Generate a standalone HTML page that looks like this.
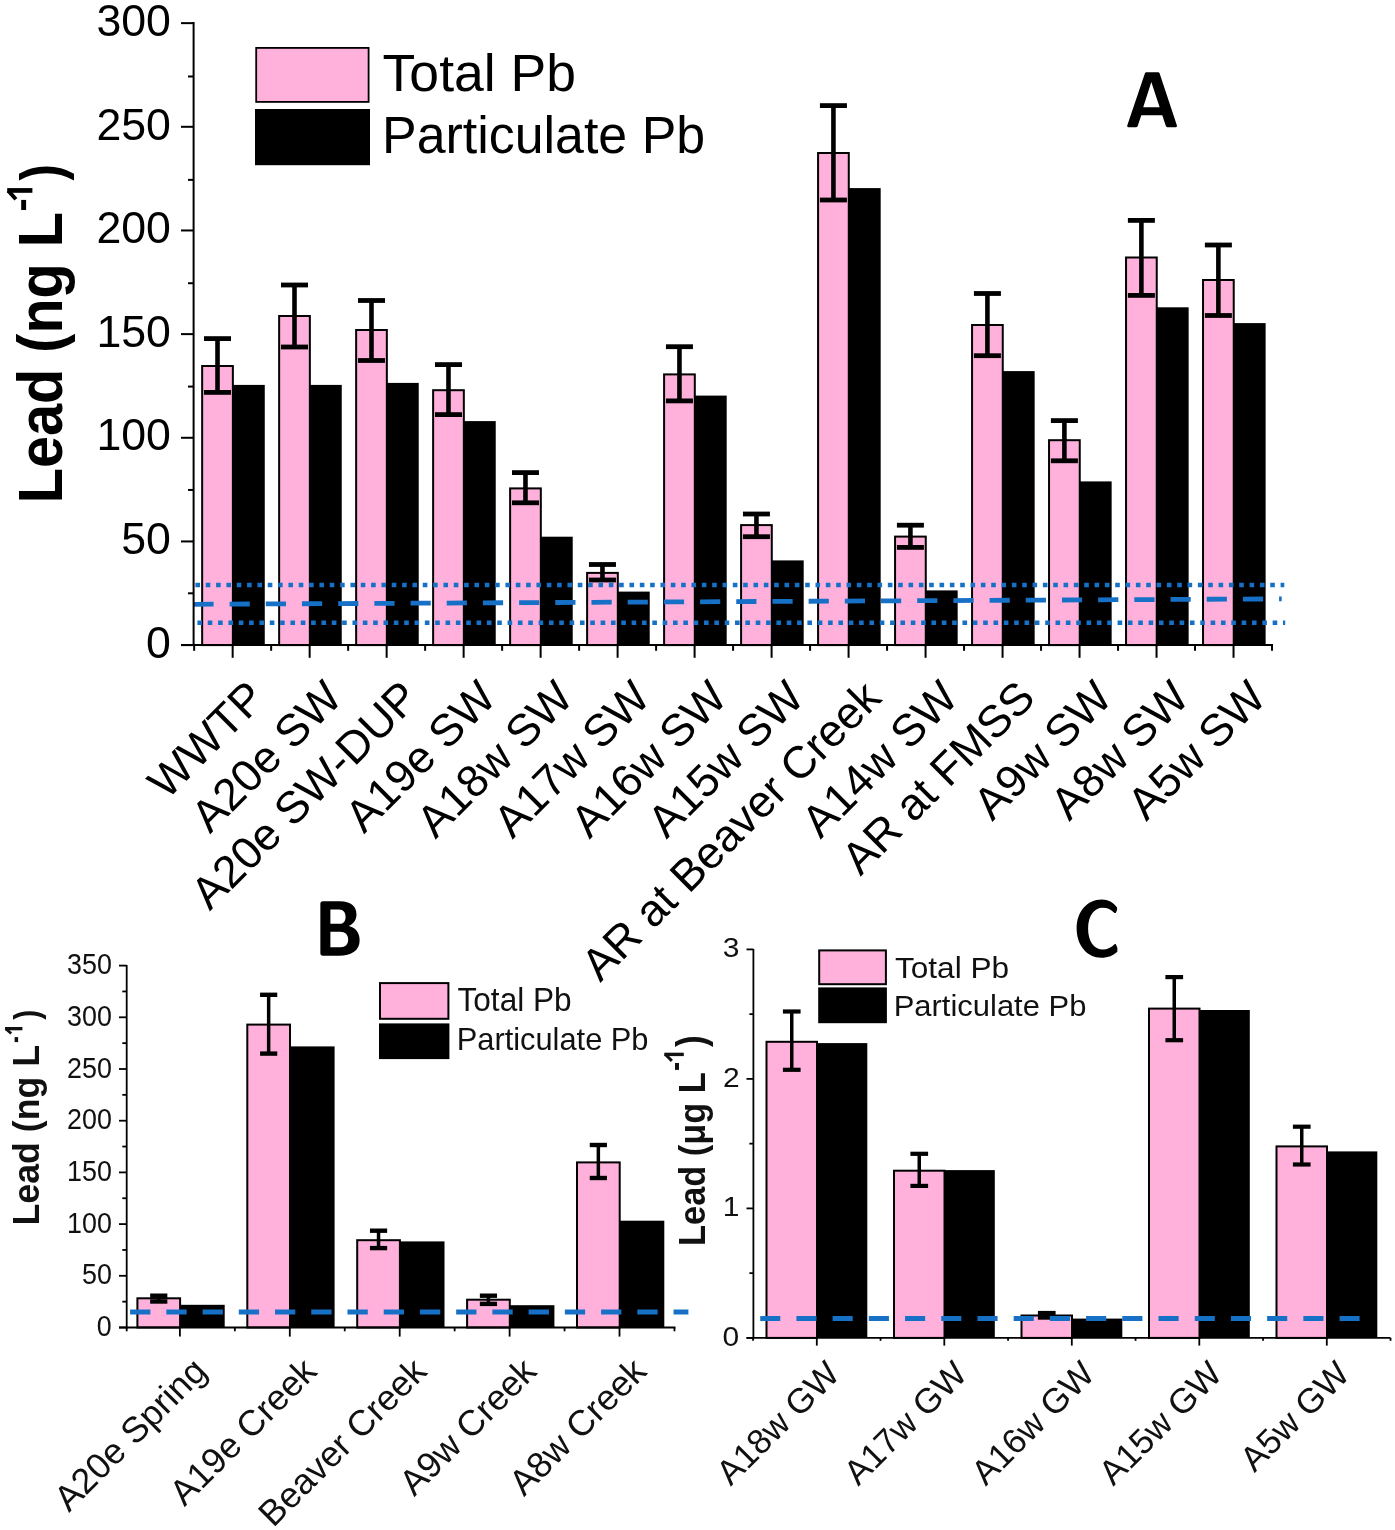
<!DOCTYPE html>
<html><head><meta charset="utf-8"><title>Lead concentrations</title>
<style>
html,body{margin:0;padding:0;background:#fff;}
body{width:1395px;height:1530px;overflow:hidden;}
svg{display:block;font-family:'Liberation Sans', sans-serif;will-change:transform;}
</style></head>
<body>
<svg width="1395" height="1530" viewBox="0 0 1395 1530">
<rect x="0" y="0" width="1395" height="1530" fill="#fff"/>
<rect x="232.96" y="384.9" width="31.8" height="260.2" fill="#000"/>
<rect x="202.16" y="366" width="30.7" height="279.1" fill="#ffb1dc" stroke="#000" stroke-width="2"/>
<rect x="309.95" y="384.9" width="31.8" height="260.2" fill="#000"/>
<rect x="279.15" y="316" width="30.7" height="329.1" fill="#ffb1dc" stroke="#000" stroke-width="2"/>
<rect x="386.94" y="382.9" width="31.8" height="262.2" fill="#000"/>
<rect x="356.14" y="330" width="30.7" height="315.1" fill="#ffb1dc" stroke="#000" stroke-width="2"/>
<rect x="463.93" y="421.1" width="31.8" height="224" fill="#000"/>
<rect x="433.13" y="390.2" width="30.7" height="254.9" fill="#ffb1dc" stroke="#000" stroke-width="2"/>
<rect x="540.92" y="536.7" width="31.8" height="108.4" fill="#000"/>
<rect x="510.12" y="488.4" width="30.7" height="156.7" fill="#ffb1dc" stroke="#000" stroke-width="2"/>
<rect x="617.91" y="591.6" width="31.8" height="53.5" fill="#000"/>
<rect x="587.11" y="572.9" width="30.7" height="72.2" fill="#ffb1dc" stroke="#000" stroke-width="2"/>
<rect x="694.9" y="395.6" width="31.8" height="249.5" fill="#000"/>
<rect x="664.1" y="374.4" width="30.7" height="270.7" fill="#ffb1dc" stroke="#000" stroke-width="2"/>
<rect x="771.89" y="560.4" width="31.8" height="84.7" fill="#000"/>
<rect x="741.09" y="525.1" width="30.7" height="120" fill="#ffb1dc" stroke="#000" stroke-width="2"/>
<rect x="848.88" y="188.1" width="31.8" height="457" fill="#000"/>
<rect x="818.08" y="153" width="30.7" height="492.1" fill="#ffb1dc" stroke="#000" stroke-width="2"/>
<rect x="925.87" y="590.4" width="31.8" height="54.7" fill="#000"/>
<rect x="895.07" y="536.6" width="30.7" height="108.5" fill="#ffb1dc" stroke="#000" stroke-width="2"/>
<rect x="1002.86" y="371.1" width="31.8" height="274" fill="#000"/>
<rect x="972.06" y="325" width="30.7" height="320.1" fill="#ffb1dc" stroke="#000" stroke-width="2"/>
<rect x="1079.85" y="481.4" width="31.8" height="163.7" fill="#000"/>
<rect x="1049.05" y="440.2" width="30.7" height="204.9" fill="#ffb1dc" stroke="#000" stroke-width="2"/>
<rect x="1156.84" y="307.3" width="31.8" height="337.8" fill="#000"/>
<rect x="1126.04" y="257.5" width="30.7" height="387.6" fill="#ffb1dc" stroke="#000" stroke-width="2"/>
<rect x="1233.83" y="323.1" width="31.8" height="322" fill="#000"/>
<rect x="1203.03" y="280" width="30.7" height="365.1" fill="#ffb1dc" stroke="#000" stroke-width="2"/>
<line x1="217.51" y1="338.6" x2="217.51" y2="392.4" stroke="#000" stroke-width="4.6" />
<line x1="204.01" y1="338.6" x2="231.01" y2="338.6" stroke="#000" stroke-width="4.8" />
<line x1="204.01" y1="392.4" x2="231.01" y2="392.4" stroke="#000" stroke-width="4.8" />
<line x1="294.5" y1="285" x2="294.5" y2="347" stroke="#000" stroke-width="4.6" />
<line x1="281" y1="285" x2="308" y2="285" stroke="#000" stroke-width="4.8" />
<line x1="281" y1="347" x2="308" y2="347" stroke="#000" stroke-width="4.8" />
<line x1="371.49" y1="300.5" x2="371.49" y2="360.5" stroke="#000" stroke-width="4.6" />
<line x1="357.99" y1="300.5" x2="384.99" y2="300.5" stroke="#000" stroke-width="4.8" />
<line x1="357.99" y1="360.5" x2="384.99" y2="360.5" stroke="#000" stroke-width="4.8" />
<line x1="448.48" y1="364.6" x2="448.48" y2="414.6" stroke="#000" stroke-width="4.6" />
<line x1="434.98" y1="364.6" x2="461.98" y2="364.6" stroke="#000" stroke-width="4.8" />
<line x1="434.98" y1="414.6" x2="461.98" y2="414.6" stroke="#000" stroke-width="4.8" />
<line x1="525.47" y1="472.6" x2="525.47" y2="502.8" stroke="#000" stroke-width="4.6" />
<line x1="511.97" y1="472.6" x2="538.97" y2="472.6" stroke="#000" stroke-width="4.8" />
<line x1="511.97" y1="502.8" x2="538.97" y2="502.8" stroke="#000" stroke-width="4.8" />
<line x1="602.46" y1="564.5" x2="602.46" y2="580" stroke="#000" stroke-width="4.6" />
<line x1="588.96" y1="564.5" x2="615.96" y2="564.5" stroke="#000" stroke-width="4.8" />
<line x1="588.96" y1="580" x2="615.96" y2="580" stroke="#000" stroke-width="4.8" />
<line x1="679.45" y1="346.7" x2="679.45" y2="400.9" stroke="#000" stroke-width="4.6" />
<line x1="665.95" y1="346.7" x2="692.95" y2="346.7" stroke="#000" stroke-width="4.8" />
<line x1="665.95" y1="400.9" x2="692.95" y2="400.9" stroke="#000" stroke-width="4.8" />
<line x1="756.44" y1="514" x2="756.44" y2="536.7" stroke="#000" stroke-width="4.6" />
<line x1="742.94" y1="514" x2="769.94" y2="514" stroke="#000" stroke-width="4.8" />
<line x1="742.94" y1="536.7" x2="769.94" y2="536.7" stroke="#000" stroke-width="4.8" />
<line x1="833.43" y1="105.6" x2="833.43" y2="200" stroke="#000" stroke-width="4.6" />
<line x1="819.93" y1="105.6" x2="846.93" y2="105.6" stroke="#000" stroke-width="4.8" />
<line x1="819.93" y1="200" x2="846.93" y2="200" stroke="#000" stroke-width="4.8" />
<line x1="910.42" y1="525.2" x2="910.42" y2="547.4" stroke="#000" stroke-width="4.6" />
<line x1="896.92" y1="525.2" x2="923.92" y2="525.2" stroke="#000" stroke-width="4.8" />
<line x1="896.92" y1="547.4" x2="923.92" y2="547.4" stroke="#000" stroke-width="4.8" />
<line x1="987.41" y1="293.5" x2="987.41" y2="355.7" stroke="#000" stroke-width="4.6" />
<line x1="973.91" y1="293.5" x2="1000.91" y2="293.5" stroke="#000" stroke-width="4.8" />
<line x1="973.91" y1="355.7" x2="1000.91" y2="355.7" stroke="#000" stroke-width="4.8" />
<line x1="1064.4" y1="420.6" x2="1064.4" y2="460.8" stroke="#000" stroke-width="4.6" />
<line x1="1050.9" y1="420.6" x2="1077.9" y2="420.6" stroke="#000" stroke-width="4.8" />
<line x1="1050.9" y1="460.8" x2="1077.9" y2="460.8" stroke="#000" stroke-width="4.8" />
<line x1="1141.39" y1="220.4" x2="1141.39" y2="295.4" stroke="#000" stroke-width="4.6" />
<line x1="1127.89" y1="220.4" x2="1154.89" y2="220.4" stroke="#000" stroke-width="4.8" />
<line x1="1127.89" y1="295.4" x2="1154.89" y2="295.4" stroke="#000" stroke-width="4.8" />
<line x1="1218.38" y1="245" x2="1218.38" y2="315.5" stroke="#000" stroke-width="4.6" />
<line x1="1204.88" y1="245" x2="1231.88" y2="245" stroke="#000" stroke-width="4.8" />
<line x1="1204.88" y1="315.5" x2="1231.88" y2="315.5" stroke="#000" stroke-width="4.8" />
<line x1="195.4" y1="584.9" x2="1284.3" y2="584.9" stroke="#1670c6" stroke-width="4.5" stroke-dasharray="4.6 5.735"/>
<line x1="197.4" y1="622.8" x2="1285.2" y2="622.8" stroke="#1670c6" stroke-width="4.5" stroke-dasharray="4.6 5.739"/>
<line x1="193.4" y1="604.3" x2="1281.7" y2="598.9" stroke="#1670c6" stroke-width="4.8" stroke-dasharray="20.2 15.99"/>
<line x1="193.6" y1="22" x2="193.6" y2="646.1" stroke="#000" stroke-width="2" />
<line x1="181" y1="645.1" x2="1273" y2="645.1" stroke="#000" stroke-width="2" />
<line x1="181" y1="645.1" x2="193.6" y2="645.1" stroke="#000" stroke-width="2" />
<line x1="181" y1="541.44" x2="193.6" y2="541.44" stroke="#000" stroke-width="2" />
<line x1="181" y1="437.78" x2="193.6" y2="437.78" stroke="#000" stroke-width="2" />
<line x1="181" y1="334.12" x2="193.6" y2="334.12" stroke="#000" stroke-width="2" />
<line x1="181" y1="230.46" x2="193.6" y2="230.46" stroke="#000" stroke-width="2" />
<line x1="181" y1="126.8" x2="193.6" y2="126.8" stroke="#000" stroke-width="2" />
<line x1="181" y1="23.14" x2="193.6" y2="23.14" stroke="#000" stroke-width="2" />
<text transform="translate(170.94,657.8) scale(0.9930,1.0063)" font-size="45" text-anchor="end" fill="#000">0</text>
<text transform="translate(170.94,554.14) scale(0.9930,1.0063)" font-size="45" text-anchor="end" fill="#000">50</text>
<text transform="translate(170.94,450.48) scale(0.9930,1.0063)" font-size="45" text-anchor="end" fill="#000">100</text>
<text transform="translate(170.94,346.82) scale(0.9930,1.0063)" font-size="45" text-anchor="end" fill="#000">150</text>
<text transform="translate(170.94,243.16) scale(0.9930,1.0063)" font-size="45" text-anchor="end" fill="#000">200</text>
<text transform="translate(170.94,139.5) scale(0.9930,1.0063)" font-size="45" text-anchor="end" fill="#000">250</text>
<text transform="translate(170.94,35.84) scale(0.9930,1.0063)" font-size="45" text-anchor="end" fill="#000">300</text>
<line x1="188" y1="593.3" x2="193.6" y2="593.3" stroke="#000" stroke-width="2" />
<line x1="188" y1="489.94" x2="193.6" y2="489.94" stroke="#000" stroke-width="2" />
<line x1="188" y1="386.58" x2="193.6" y2="386.58" stroke="#000" stroke-width="2" />
<line x1="188" y1="283.22" x2="193.6" y2="283.22" stroke="#000" stroke-width="2" />
<line x1="188" y1="179.86" x2="193.6" y2="179.86" stroke="#000" stroke-width="2" />
<line x1="188" y1="76.5" x2="193.6" y2="76.5" stroke="#000" stroke-width="2" />
<line x1="232.66" y1="645.1" x2="232.66" y2="657.8" stroke="#000" stroke-width="2" />
<line x1="309.65" y1="645.1" x2="309.65" y2="657.8" stroke="#000" stroke-width="2" />
<line x1="386.64" y1="645.1" x2="386.64" y2="657.8" stroke="#000" stroke-width="2" />
<line x1="463.63" y1="645.1" x2="463.63" y2="657.8" stroke="#000" stroke-width="2" />
<line x1="540.62" y1="645.1" x2="540.62" y2="657.8" stroke="#000" stroke-width="2" />
<line x1="617.61" y1="645.1" x2="617.61" y2="657.8" stroke="#000" stroke-width="2" />
<line x1="694.6" y1="645.1" x2="694.6" y2="657.8" stroke="#000" stroke-width="2" />
<line x1="771.59" y1="645.1" x2="771.59" y2="657.8" stroke="#000" stroke-width="2" />
<line x1="848.58" y1="645.1" x2="848.58" y2="657.8" stroke="#000" stroke-width="2" />
<line x1="925.57" y1="645.1" x2="925.57" y2="657.8" stroke="#000" stroke-width="2" />
<line x1="1002.56" y1="645.1" x2="1002.56" y2="657.8" stroke="#000" stroke-width="2" />
<line x1="1079.55" y1="645.1" x2="1079.55" y2="657.8" stroke="#000" stroke-width="2" />
<line x1="1156.54" y1="645.1" x2="1156.54" y2="657.8" stroke="#000" stroke-width="2" />
<line x1="1233.53" y1="645.1" x2="1233.53" y2="657.8" stroke="#000" stroke-width="2" />
<line x1="194.16" y1="645.1" x2="194.16" y2="650.8" stroke="#000" stroke-width="2" />
<line x1="271.15" y1="645.1" x2="271.15" y2="650.8" stroke="#000" stroke-width="2" />
<line x1="348.14" y1="645.1" x2="348.14" y2="650.8" stroke="#000" stroke-width="2" />
<line x1="425.13" y1="645.1" x2="425.13" y2="650.8" stroke="#000" stroke-width="2" />
<line x1="502.12" y1="645.1" x2="502.12" y2="650.8" stroke="#000" stroke-width="2" />
<line x1="579.11" y1="645.1" x2="579.11" y2="650.8" stroke="#000" stroke-width="2" />
<line x1="656.1" y1="645.1" x2="656.1" y2="650.8" stroke="#000" stroke-width="2" />
<line x1="733.09" y1="645.1" x2="733.09" y2="650.8" stroke="#000" stroke-width="2" />
<line x1="810.08" y1="645.1" x2="810.08" y2="650.8" stroke="#000" stroke-width="2" />
<line x1="887.07" y1="645.1" x2="887.07" y2="650.8" stroke="#000" stroke-width="2" />
<line x1="964.06" y1="645.1" x2="964.06" y2="650.8" stroke="#000" stroke-width="2" />
<line x1="1041.05" y1="645.1" x2="1041.05" y2="650.8" stroke="#000" stroke-width="2" />
<line x1="1118.04" y1="645.1" x2="1118.04" y2="650.8" stroke="#000" stroke-width="2" />
<line x1="1195.03" y1="645.1" x2="1195.03" y2="650.8" stroke="#000" stroke-width="2" />
<line x1="1272.02" y1="645.1" x2="1272.02" y2="650.8" stroke="#000" stroke-width="2" />
<text transform="translate(62.1,503.29) rotate(-90) scale(1.0111,1.1032)" font-size="57" font-weight="bold" text-anchor="start" fill="#000">Lead (ng L</text>
<rect x="7.2" y="188.1" width="25.2" height="4.7" fill="#000"/>
<line x1="8.2" y1="190.6" x2="15.9" y2="199.3" stroke="#000" stroke-width="3.9" />
<rect x="21.2" y="199.9" width="4.9" height="10.1" fill="#000"/>
<text transform="translate(61.73,180.52) rotate(-90) scale(0.8625,1.0358)" font-size="57" font-weight="bold" text-anchor="start" fill="#000">)</text>
<rect x="256.2" y="47.9" width="112.4" height="54" fill="#ffb1dc" stroke="#000" stroke-width="1.8"/>
<rect x="255" y="109" width="115" height="56.2" fill="#000"/>
<text transform="translate(382.6,91.09) scale(1.0397,1.0146)" font-size="51.5" font-weight="normal" text-anchor="start" fill="#000">Total Pb</text>
<text transform="translate(382.02,153) scale(1.0078,1.0093)" font-size="51.5" font-weight="normal" text-anchor="start" fill="#000">Particulate Pb</text>
<path transform="translate(1100,60) scale(0.071685)" fill="#000" fill-rule="evenodd" d="M 648 170 L 810 170 Q 826 170 831 185 L 1073 912 Q 1080 937 1056 937 L 940 937 Q 924 937 919 921 L 869 770 L 576 770 L 526 921 Q 521 937 505 937 L 397 937 Q 373 937 380 912 L 627 185 Q 632 170 648 170 Z M 716 306 L 832 658 L 603 658 Z"/>
<text transform="translate(267.36,700) rotate(-45)" font-size="45" text-anchor="end">WWTP</text>
<text transform="translate(344.35,700) rotate(-45)" font-size="45" text-anchor="end">A20e SW</text>
<text transform="translate(421.34,700) rotate(-45)" font-size="45" text-anchor="end">A20e SW-DUP</text>
<text transform="translate(498.33,700) rotate(-45)" font-size="45" text-anchor="end">A19e SW</text>
<text transform="translate(575.32,700) rotate(-45)" font-size="45" text-anchor="end">A18w SW</text>
<text transform="translate(652.31,700) rotate(-45)" font-size="45" text-anchor="end">A17w SW</text>
<text transform="translate(729.3,700) rotate(-45)" font-size="45" text-anchor="end">A16w SW</text>
<text transform="translate(806.29,700) rotate(-45)" font-size="45" text-anchor="end">A15w SW</text>
<text transform="translate(883.28,700) rotate(-45)" font-size="45" text-anchor="end">AR at Beaver Creek</text>
<text transform="translate(960.27,700) rotate(-45)" font-size="45" text-anchor="end">A14w SW</text>
<text transform="translate(1037.26,700) rotate(-45)" font-size="45" text-anchor="end">AR at FMSS</text>
<text transform="translate(1114.25,700) rotate(-45)" font-size="45" text-anchor="end">A9w SW</text>
<text transform="translate(1191.24,700) rotate(-45)" font-size="45" text-anchor="end">A8w SW</text>
<text transform="translate(1268.23,700) rotate(-45)" font-size="45" text-anchor="end">A5w SW</text>
<rect x="180.1" y="1304.8" width="44.6" height="22.7" fill="#000"/>
<rect x="137.4" y="1298.3" width="42.7" height="29.2" fill="#ffb1dc" stroke="#000" stroke-width="2"/>
<rect x="290" y="1046.4" width="44.6" height="281.1" fill="#000"/>
<rect x="247.3" y="1024.6" width="42.7" height="302.9" fill="#ffb1dc" stroke="#000" stroke-width="2"/>
<rect x="399.9" y="1241.4" width="44.6" height="86.1" fill="#000"/>
<rect x="357.2" y="1240.2" width="42.7" height="87.3" fill="#ffb1dc" stroke="#000" stroke-width="2"/>
<rect x="509.8" y="1305.2" width="44.6" height="22.3" fill="#000"/>
<rect x="467.1" y="1299.7" width="42.7" height="27.8" fill="#ffb1dc" stroke="#000" stroke-width="2"/>
<rect x="619.7" y="1220.7" width="44.6" height="106.8" fill="#000"/>
<rect x="577" y="1162.4" width="42.7" height="165.1" fill="#ffb1dc" stroke="#000" stroke-width="2"/>
<line x1="158.75" y1="1295.7" x2="158.75" y2="1301.5" stroke="#000" stroke-width="3.5" />
<line x1="150.15" y1="1295.7" x2="167.35" y2="1295.7" stroke="#000" stroke-width="4.4" />
<line x1="150.15" y1="1301.5" x2="167.35" y2="1301.5" stroke="#000" stroke-width="4.4" />
<line x1="268.65" y1="994.8" x2="268.65" y2="1053.6" stroke="#000" stroke-width="3.5" />
<line x1="260.05" y1="994.8" x2="277.25" y2="994.8" stroke="#000" stroke-width="4.4" />
<line x1="260.05" y1="1053.6" x2="277.25" y2="1053.6" stroke="#000" stroke-width="4.4" />
<line x1="378.55" y1="1230.7" x2="378.55" y2="1248.1" stroke="#000" stroke-width="3.5" />
<line x1="369.95" y1="1230.7" x2="387.15" y2="1230.7" stroke="#000" stroke-width="4.4" />
<line x1="369.95" y1="1248.1" x2="387.15" y2="1248.1" stroke="#000" stroke-width="4.4" />
<line x1="488.45" y1="1295.7" x2="488.45" y2="1303.9" stroke="#000" stroke-width="3.5" />
<line x1="479.85" y1="1295.7" x2="497.05" y2="1295.7" stroke="#000" stroke-width="4.4" />
<line x1="479.85" y1="1303.9" x2="497.05" y2="1303.9" stroke="#000" stroke-width="4.4" />
<line x1="598.35" y1="1145" x2="598.35" y2="1178" stroke="#000" stroke-width="3.5" />
<line x1="589.75" y1="1145" x2="606.95" y2="1145" stroke="#000" stroke-width="4.4" />
<line x1="589.75" y1="1178" x2="606.95" y2="1178" stroke="#000" stroke-width="4.4" />
<line x1="130.1" y1="1312" x2="688.4" y2="1312" stroke="#1670c6" stroke-width="5" stroke-dasharray="20.3 15.93"/>
<line x1="126.7" y1="965" x2="126.7" y2="1328.5" stroke="#000" stroke-width="1.8" />
<line x1="119" y1="1327.5" x2="675.5" y2="1327.5" stroke="#000" stroke-width="1.8" />
<line x1="119" y1="1327.5" x2="126.7" y2="1327.5" stroke="#000" stroke-width="1.8" />
<line x1="119" y1="1275.8" x2="126.7" y2="1275.8" stroke="#000" stroke-width="1.8" />
<line x1="119" y1="1224.1" x2="126.7" y2="1224.1" stroke="#000" stroke-width="1.8" />
<line x1="119" y1="1172.4" x2="126.7" y2="1172.4" stroke="#000" stroke-width="1.8" />
<line x1="119" y1="1120.7" x2="126.7" y2="1120.7" stroke="#000" stroke-width="1.8" />
<line x1="119" y1="1069" x2="126.7" y2="1069" stroke="#000" stroke-width="1.8" />
<line x1="119" y1="1017.3" x2="126.7" y2="1017.3" stroke="#000" stroke-width="1.8" />
<line x1="119" y1="965.6" x2="126.7" y2="965.6" stroke="#000" stroke-width="1.8" />
<text transform="translate(111.64,1336.14) scale(0.9392,1.0272)" font-size="28.6" text-anchor="end" fill="#111">0</text>
<text transform="translate(111.87,1284.44) scale(0.9392,1.0272)" font-size="28.6" text-anchor="end" fill="#111">50</text>
<text transform="translate(111.87,1232.74) scale(0.9392,1.0272)" font-size="28.6" text-anchor="end" fill="#111">100</text>
<text transform="translate(111.87,1181.04) scale(0.9392,1.0272)" font-size="28.6" text-anchor="end" fill="#111">150</text>
<text transform="translate(111.87,1129.34) scale(0.9392,1.0272)" font-size="28.6" text-anchor="end" fill="#111">200</text>
<text transform="translate(111.87,1077.64) scale(0.9392,1.0272)" font-size="28.6" text-anchor="end" fill="#111">250</text>
<text transform="translate(111.87,1025.94) scale(0.9392,1.0272)" font-size="28.6" text-anchor="end" fill="#111">300</text>
<text transform="translate(111.87,974.24) scale(0.9392,1.0272)" font-size="28.6" text-anchor="end" fill="#111">350</text>
<line x1="122.3" y1="1301.65" x2="126.7" y2="1301.65" stroke="#000" stroke-width="1.8" />
<line x1="122.3" y1="1249.95" x2="126.7" y2="1249.95" stroke="#000" stroke-width="1.8" />
<line x1="122.3" y1="1198.25" x2="126.7" y2="1198.25" stroke="#000" stroke-width="1.8" />
<line x1="122.3" y1="1146.55" x2="126.7" y2="1146.55" stroke="#000" stroke-width="1.8" />
<line x1="122.3" y1="1094.85" x2="126.7" y2="1094.85" stroke="#000" stroke-width="1.8" />
<line x1="122.3" y1="1043.15" x2="126.7" y2="1043.15" stroke="#000" stroke-width="1.8" />
<line x1="122.3" y1="991.45" x2="126.7" y2="991.45" stroke="#000" stroke-width="1.8" />
<line x1="179.9" y1="1327.5" x2="179.9" y2="1336.6" stroke="#000" stroke-width="1.8" />
<line x1="289.8" y1="1327.5" x2="289.8" y2="1336.6" stroke="#000" stroke-width="1.8" />
<line x1="399.7" y1="1327.5" x2="399.7" y2="1336.6" stroke="#000" stroke-width="1.8" />
<line x1="509.6" y1="1327.5" x2="509.6" y2="1336.6" stroke="#000" stroke-width="1.8" />
<line x1="619.5" y1="1327.5" x2="619.5" y2="1336.6" stroke="#000" stroke-width="1.8" />
<line x1="126.7" y1="1327.5" x2="126.7" y2="1331.3" stroke="#000" stroke-width="1.8" />
<line x1="234.85" y1="1327.5" x2="234.85" y2="1331.3" stroke="#000" stroke-width="1.8" />
<line x1="344.75" y1="1327.5" x2="344.75" y2="1331.3" stroke="#000" stroke-width="1.8" />
<line x1="454.65" y1="1327.5" x2="454.65" y2="1331.3" stroke="#000" stroke-width="1.8" />
<line x1="564.55" y1="1327.5" x2="564.55" y2="1331.3" stroke="#000" stroke-width="1.8" />
<line x1="674.45" y1="1327.5" x2="674.45" y2="1331.3" stroke="#000" stroke-width="1.8" />
<text transform="translate(39.4,1225.52) rotate(-90) scale(1.0071,1.0408)" font-size="35.5" font-weight="bold" text-anchor="start" fill="#111">Lead (ng L</text>
<rect x="5" y="1027" width="17.4" height="3.3" fill="#111"/>
<line x1="5.7" y1="1028.7" x2="11.2" y2="1033.6" stroke="#111" stroke-width="2.7" />
<rect x="14.6" y="1037.1" width="3.5" height="5" fill="#111"/>
<text transform="translate(39.45,1019.7) rotate(-90) scale(0.8500,1.0000)" font-size="35.5" font-weight="bold" text-anchor="start" fill="#111">)</text>
<rect x="380" y="983.1" width="68.4" height="35.7" fill="#ffb1dc" stroke="#000" stroke-width="2"/>
<rect x="379" y="1023.4" width="70.4" height="35.7" fill="#000"/>
<text transform="translate(457.52,1011.03) scale(1.0356,1.0831)" font-size="30.5" font-weight="normal" text-anchor="start" fill="#111">Total Pb</text>
<text transform="translate(456.77,1050.14) scale(1.0102,1.0337)" font-size="30.5" font-weight="normal" text-anchor="start" fill="#111">Particulate Pb</text>
<path transform="translate(300,890) scale(0.05734)" fill="#000" fill-rule="evenodd" d="M 400 195 L 700 195 C 880 195 985 280 985 425 C 985 530 925 600 850 630 C 965 655 1040 745 1040 875 C 1040 1055 900 1145 680 1145 L 400 1145 Q 355 1145 355 1100 L 355 240 Q 355 195 400 195 Z M 530 340 L 530 590 L 690 590 C 760 590 795 540 795 465 C 795 390 755 340 680 340 Z M 530 730 L 530 1000 L 705 1000 C 795 1000 840 950 840 865 C 840 780 790 730 700 730 Z"/>
<text transform="translate(208.6,1373.2) rotate(-45)" font-size="35.9" text-anchor="end" fill="#111">A20e Spring</text>
<text transform="translate(318.5,1373.2) rotate(-45)" font-size="35.9" text-anchor="end" fill="#111">A19e Creek</text>
<text transform="translate(428.4,1373.2) rotate(-45)" font-size="35.9" text-anchor="end" fill="#111">Beaver Creek</text>
<text transform="translate(538.3,1373.2) rotate(-45)" font-size="35.9" text-anchor="end" fill="#111">A9w Creek</text>
<text transform="translate(648.2,1373.2) rotate(-45)" font-size="35.9" text-anchor="end" fill="#111">A8w Creek</text>
<rect x="817" y="1043.1" width="50.3" height="294.8" fill="#000"/>
<rect x="766.5" y="1041.8" width="50.5" height="296.1" fill="#ffb1dc" stroke="#000" stroke-width="2"/>
<rect x="944.5" y="1170.1" width="50.3" height="167.8" fill="#000"/>
<rect x="894" y="1170.7" width="50.5" height="167.2" fill="#ffb1dc" stroke="#000" stroke-width="2"/>
<rect x="1072" y="1318.6" width="50.3" height="19.3" fill="#000"/>
<rect x="1021.5" y="1315.5" width="50.5" height="22.4" fill="#ffb1dc" stroke="#000" stroke-width="2"/>
<rect x="1199.5" y="1010" width="50.3" height="327.9" fill="#000"/>
<rect x="1149" y="1008.6" width="50.5" height="329.3" fill="#ffb1dc" stroke="#000" stroke-width="2"/>
<rect x="1327" y="1151.4" width="50.3" height="186.5" fill="#000"/>
<rect x="1276.5" y="1146.4" width="50.5" height="191.5" fill="#ffb1dc" stroke="#000" stroke-width="2"/>
<line x1="791.75" y1="1011.5" x2="791.75" y2="1069.8" stroke="#000" stroke-width="3.5" />
<line x1="782.9" y1="1011.5" x2="800.6" y2="1011.5" stroke="#000" stroke-width="4.2" />
<line x1="782.9" y1="1069.8" x2="800.6" y2="1069.8" stroke="#000" stroke-width="4.2" />
<line x1="919.25" y1="1153.8" x2="919.25" y2="1185.9" stroke="#000" stroke-width="3.5" />
<line x1="910.4" y1="1153.8" x2="928.1" y2="1153.8" stroke="#000" stroke-width="4.2" />
<line x1="910.4" y1="1185.9" x2="928.1" y2="1185.9" stroke="#000" stroke-width="4.2" />
<line x1="1046.75" y1="1313" x2="1046.75" y2="1317.6" stroke="#000" stroke-width="3.5" />
<line x1="1037.9" y1="1313" x2="1055.6" y2="1313" stroke="#000" stroke-width="4.2" />
<line x1="1037.9" y1="1317.6" x2="1055.6" y2="1317.6" stroke="#000" stroke-width="4.2" />
<line x1="1174.25" y1="977.1" x2="1174.25" y2="1040.2" stroke="#000" stroke-width="3.5" />
<line x1="1165.4" y1="977.1" x2="1183.1" y2="977.1" stroke="#000" stroke-width="4.2" />
<line x1="1165.4" y1="1040.2" x2="1183.1" y2="1040.2" stroke="#000" stroke-width="4.2" />
<line x1="1301.75" y1="1126.7" x2="1301.75" y2="1164.5" stroke="#000" stroke-width="3.5" />
<line x1="1292.9" y1="1126.7" x2="1310.6" y2="1126.7" stroke="#000" stroke-width="4.2" />
<line x1="1292.9" y1="1164.5" x2="1310.6" y2="1164.5" stroke="#000" stroke-width="4.2" />
<line x1="760.2" y1="1318.6" x2="1359.6" y2="1318.6" stroke="#1670c6" stroke-width="5" stroke-dasharray="20.1 16.11"/>
<line x1="753.4" y1="949" x2="753.4" y2="1338.9" stroke="#000" stroke-width="1.8" />
<line x1="746.5" y1="1337.9" x2="1390.5" y2="1337.9" stroke="#000" stroke-width="1.8" />
<line x1="746.5" y1="1337.9" x2="753.4" y2="1337.9" stroke="#000" stroke-width="1.8" />
<line x1="746.5" y1="1208.4" x2="753.4" y2="1208.4" stroke="#000" stroke-width="1.8" />
<line x1="746.5" y1="1078.9" x2="753.4" y2="1078.9" stroke="#000" stroke-width="1.8" />
<line x1="746.5" y1="949.4" x2="753.4" y2="949.4" stroke="#000" stroke-width="1.8" />
<text transform="translate(739.1,1345.95) scale(1.0980,1.0182)" font-size="27.3" text-anchor="end" fill="#111">0</text>
<text transform="translate(739.37,1216.45) scale(1.0980,1.0182)" font-size="27.3" text-anchor="end" fill="#111">1</text>
<text transform="translate(739.65,1087.07) scale(1.0980,1.0182)" font-size="27.3" text-anchor="end" fill="#111">2</text>
<text transform="translate(739.37,957.45) scale(1.0980,1.0182)" font-size="27.3" text-anchor="end" fill="#111">3</text>
<line x1="749.4" y1="1273.15" x2="753.4" y2="1273.15" stroke="#000" stroke-width="1.8" />
<line x1="749.4" y1="1143.65" x2="753.4" y2="1143.65" stroke="#000" stroke-width="1.8" />
<line x1="749.4" y1="1014.15" x2="753.4" y2="1014.15" stroke="#000" stroke-width="1.8" />
<line x1="816.8" y1="1337.9" x2="816.8" y2="1345.6" stroke="#000" stroke-width="1.8" />
<line x1="944.3" y1="1337.9" x2="944.3" y2="1345.6" stroke="#000" stroke-width="1.8" />
<line x1="1071.8" y1="1337.9" x2="1071.8" y2="1345.6" stroke="#000" stroke-width="1.8" />
<line x1="1199.3" y1="1337.9" x2="1199.3" y2="1345.6" stroke="#000" stroke-width="1.8" />
<line x1="1326.8" y1="1337.9" x2="1326.8" y2="1345.6" stroke="#000" stroke-width="1.8" />
<line x1="753.05" y1="1337.9" x2="753.05" y2="1340.8" stroke="#000" stroke-width="1.8" />
<line x1="880.55" y1="1337.9" x2="880.55" y2="1340.8" stroke="#000" stroke-width="1.8" />
<line x1="1008.05" y1="1337.9" x2="1008.05" y2="1340.8" stroke="#000" stroke-width="1.8" />
<line x1="1135.55" y1="1337.9" x2="1135.55" y2="1340.8" stroke="#000" stroke-width="1.8" />
<line x1="1263.05" y1="1337.9" x2="1263.05" y2="1340.8" stroke="#000" stroke-width="1.8" />
<line x1="1390.55" y1="1337.9" x2="1390.55" y2="1340.8" stroke="#000" stroke-width="1.8" />
<text transform="translate(704.6,1245.88) rotate(-90) scale(0.9535,1.0424)" font-size="36" font-weight="bold" text-anchor="start" fill="#111">Lead (μg L</text>
<rect x="664.3" y="1052.7" width="19.5" height="3.4" fill="#111"/>
<line x1="665.2" y1="1054.3" x2="671.9" y2="1060.9" stroke="#111" stroke-width="3" />
<rect x="675" y="1063" width="4" height="6.9" fill="#111"/>
<text transform="translate(704.57,1047) rotate(-90) scale(0.9854,1.1373)" font-size="36" font-weight="bold" text-anchor="start" fill="#111">)</text>
<rect x="819.2" y="950.4" width="66.7" height="33.8" fill="#ffb1dc" stroke="#000" stroke-width="2"/>
<rect x="818.2" y="987.4" width="68.7" height="35.8" fill="#000"/>
<text transform="translate(895,977.85) scale(1.0708,1.0140)" font-size="29.5" font-weight="normal" text-anchor="start" fill="#111">Total Pb</text>
<text transform="translate(893.68,1015.55) scale(1.0494,1.0186)" font-size="29.5" font-weight="normal" text-anchor="start" fill="#111">Particulate Pb</text>
<path transform="translate(1060,890) scale(0.05734)" fill="#000" d="M 995 305 C 930 215 840 165 730 165 C 470 165 290 380 290 670 C 290 960 470 1180 720 1180 C 840 1180 930 1140 1000 1075 Q 1010 1000 975 945 Q 965 935 950 945 C 895 1000 830 1038 750 1038 C 590 1038 490 890 490 670 C 490 450 600 310 740 310 C 830 310 895 345 945 395 Q 960 405 975 395 Q 1005 350 995 305 Z"/>
<text transform="translate(841.5,1376.1) rotate(-45)" font-size="34.8" text-anchor="end" fill="#111">A18w GW</text>
<text transform="translate(969,1376.1) rotate(-45)" font-size="34.8" text-anchor="end" fill="#111">A17w GW</text>
<text transform="translate(1096.5,1376.1) rotate(-45)" font-size="34.8" text-anchor="end" fill="#111">A16w GW</text>
<text transform="translate(1224,1376.1) rotate(-45)" font-size="34.8" text-anchor="end" fill="#111">A15w GW</text>
<text transform="translate(1351.5,1376.1) rotate(-45)" font-size="34.8" text-anchor="end" fill="#111">A5w GW</text>
</svg>
</body></html>
